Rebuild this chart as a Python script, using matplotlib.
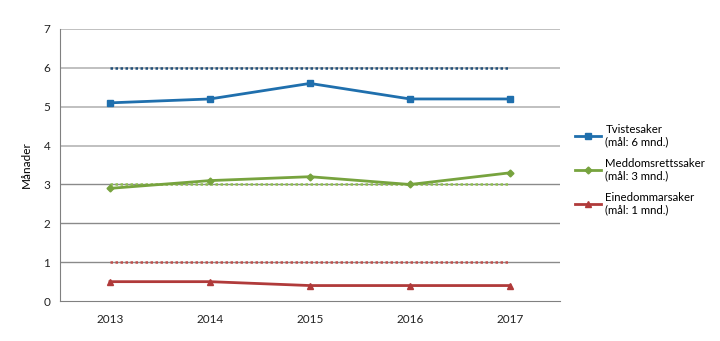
import numpy as np
import matplotlib.pyplot as plt

plt.rcParams['font.family'] = ['Lato', 'DejaVu Sans']

years = ['2013', '2014', '2015', '2016', '2017']
tviste = [5.1, 5.2, 5.6, 5.2, 5.2]
meddom = [2.9, 3.1, 3.2, 3.0, 3.3]
eined = [0.5, 0.5, 0.4, 0.4, 0.4]
mal_tviste = [6, 6, 6, 6, 6]
mal_meddom = [3, 3, 3, 3, 3]
mal_eined = [1, 1, 1, 1, 1]

blue = '#1f6fad'
green = '#77a33e'
red = '#b03a3a'

fig = plt.figure(figsize=(7.2, 3.41), dpi=100)
ax = fig.add_axes([0.0833, 0.117, 0.6944, 0.798])
x = np.arange(len(years))

# gridlinjer: lys over 3, mørkere under
for y in range(1, 8):
    c = '#c0c0c0' if y >= 4 else '#8a8a8a'
    ax.axhline(y, color=c, lw=1.4 if y >= 4 else 1.0, zorder=0)

ax.plot(x, mal_tviste, color='#1f4e79', ls=(0, (1, 1.0)), lw=1.8, zorder=2)
ax.plot(x, mal_meddom, color='#8fc04f', ls=(0, (1, 1.0)), lw=1.8, zorder=2)
ax.plot(x, mal_eined, color='#c0504d', ls=(0, (1, 1.0)), lw=1.8, zorder=2)

ax.plot(x, tviste, color=blue, lw=2, marker='s', ms=5, label='Tvistesaker\n(mål: 6 mnd.)', zorder=3)
ax.plot(x, meddom, color=green, lw=2, marker='D', ms=3.5, label='Meddomsrettssaker\n(mål: 3 mnd.)', zorder=3)
ax.plot(x, eined, color=red, lw=2, marker='^', ms=5, label='Einedommarsaker\n(mål: 1 mnd.)', zorder=3)

ax.set_xlim(-0.5, 4.5)
ax.set_ylim(0, 7)
ax.set_xticks(x)
ax.set_xticklabels(years)
ax.set_yticks(range(8))
ax.tick_params(axis='both', length=0, labelsize=8.5, pad=7, labelcolor='#222222')
ax.tick_params(axis='x', pad=9)
for s in ['top', 'right']:
    ax.spines[s].set_visible(False)
ax.spines['left'].set_color('#808080')
ax.spines['bottom'].set_color('#808080')
ax.set_ylabel('Månader', fontsize=8.5, labelpad=8)

fig.legend(loc='upper left', bbox_to_anchor=(0.784, 0.667), frameon=False,
           fontsize=8.2, handlelength=2.3, labelspacing=0.9, handletextpad=0.4)

fig.savefig('out.png', dpi=100)
